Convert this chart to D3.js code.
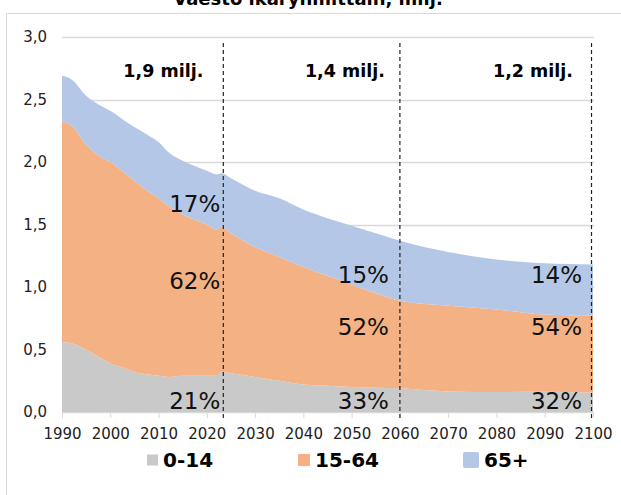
<!DOCTYPE html>
<html>
<head>
<meta charset="utf-8">
<script src="https://cdn.jsdelivr.net/npm/d3@7"></script>
<style>
  body { margin: 0; background: #fff; }
  text { font-family: Verdana, "DejaVu Sans", sans-serif; }
</style>
</head>
<body>
<div id="chart"></div>
<script>
// population by age group, millions
var years    = [1990, 1992, 1995, 1998, 2000, 2003, 2005, 2008, 2010, 2012, 2015, 2018, 2020, 2022, 2023, 2025, 2030, 2035, 2040, 2045, 2050, 2055, 2060, 2070, 2080, 2090, 2100];
var age0_14  = [0.56, 0.55, 0.50, 0.43, 0.39, 0.35, 0.32, 0.30, 0.29, 0.28, 0.29, 0.29, 0.29, 0.29, 0.32, 0.31, 0.28, 0.25, 0.22, 0.21, 0.20, 0.195, 0.19, 0.165, 0.16, 0.163, 0.155];
var age15_64 = [1.77, 1.74, 1.64, 1.61, 1.61, 1.56, 1.53, 1.46, 1.42, 1.37, 1.29, 1.24, 1.21, 1.17, 1.16, 1.12, 1.04, 0.99, 0.94, 0.88, 0.82, 0.755, 0.70, 0.685, 0.66, 0.617, 0.615];
var age65    = [0.36, 0.37, 0.39, 0.41, 0.41, 0.42, 0.43, 0.45, 0.45, 0.43, 0.43, 0.43, 0.43, 0.44, 0.43, 0.44, 0.45, 0.47, 0.46, 0.46, 0.47, 0.48, 0.48, 0.43, 0.40, 0.41, 0.41];

var groups = ["0-14", "15-64", "65+"];
var colors = ["#c9c9c9", "#f4b183", "#b4c7e7"];

var xTicks = [1990, 2000, 2010, 2020, 2030, 2040, 2050, 2060, 2070, 2080, 2090, 2100];
var yTicks = [0, 0.5, 1, 1.5, 2, 2.5, 3];

// marked years with total population and shares
var markYears   = [2023, 2060, 2100];
var totalLabels = ["1,9 milj.", "1,4 milj.", "1,2 milj."];
var shareTop    = ["17%", "15%", "14%"];
var shareMid    = ["62%", "52%", "54%"];
var shareLow    = ["21%", "33%", "32%"];

var titleText = "Väestö ikäryhmittäin, milj.";

/************ PAGE SET-UP ***************/
var width = 621, height = 495;

var svg = d3.select("#chart").append("svg")
    .attr("width", width)
    .attr("height", height);

var x = d3.scaleLinear().domain([1990, 2100]).range([62, 593]);
var y = d3.scaleLinear().domain([0, 3]).range([412, 37]);

var fmt = function (v) { return d3.format(".1f")(v).replace(".", ","); };

// title, mostly cut off at the top edge (as in the original)
svg.append("text")
    .attr("x", 308)
    .attr("y", 5)
    .attr("text-anchor", "middle")
    .style("font-size", "18px")
    .style("font-weight", "bold")
    .text(titleText);

// chart frame
svg.append("rect")
    .attr("x", 6.5)
    .attr("y", 13.5)
    .attr("width", 700)
    .attr("height", 600)
    .attr("fill", "none")
    .attr("stroke", "#d9d9d9");

/************ GRID AND AXES ***************/
svg.append("g")
    .selectAll("line")
    .data(yTicks)
    .join("line")
    .attr("x1", x(1990))
    .attr("x2", x(2100) + 1)
    .attr("y1", function (d) { return Math.round(y(d)) + 0.5; })
    .attr("y2", function (d) { return Math.round(y(d)) + 0.5; })
    .attr("stroke", "#d9d9d9")
    .attr("stroke-width", 1.5);

svg.append("g")
    .selectAll("text")
    .data(yTicks)
    .join("text")
    .attr("x", 47)
    .attr("y", function (d) { return y(d); })
    .attr("dy", "0.36em")
    .attr("text-anchor", "end")
    .style("font-size", "15px")
    .attr("fill", "#222")
    .text(fmt);

var xAxis = d3.axisBottom(x)
    .tickValues(xTicks)
    .tickFormat(d3.format("d"))
    .tickSize(6)
    .tickPadding(10);

var gx = svg.append("g")
    .attr("transform", "translate(0," + y(0) + ")")
    .call(xAxis);

gx.select(".domain").attr("stroke", "#d9d9d9");
gx.selectAll(".tick line").attr("stroke", "#d9d9d9");
gx.selectAll(".tick text")
    .style("font-size", "15px")
    .style("font-family", "Verdana, 'DejaVu Sans', sans-serif")
    .attr("fill", "#222");

/************ STACKED AREAS ***************/
var rows = years.map(function (yr, i) {
    return { year: yr, "0-14": age0_14[i], "15-64": age15_64[i], "65+": age65[i] };
});

var series = d3.stack().keys(groups)(rows);

var area = d3.area()
    .curve(d3.curveMonotoneX)
    .x(function (d) { return x(d.data.year); })
    .y0(function (d) { return y(d[0]); })
    .y1(function (d) { return y(d[1]); });

svg.append("g")
    .selectAll("path")
    .data(series)
    .join("path")
    .attr("fill", function (d, i) { return colors[i]; })
    .attr("d", area);

/************ MARKER LINES AND LABELS ***************/
var lineShift = [2, 0, -1.5];

svg.append("g")
    .selectAll("line")
    .data(markYears)
    .join("line")
    .attr("x1", function (d, i) { return x(d) + lineShift[i]; })
    .attr("x2", function (d, i) { return x(d) + lineShift[i]; })
    .attr("y1", 43)
    .attr("y2", 420)
    .attr("stroke", "#222")
    .attr("stroke-width", 1.2)
    .attr("stroke-dasharray", "4,3");

var totalShift = [-18, -15, -20];

svg.append("g")
    .selectAll("text")
    .data(totalLabels)
    .join("text")
    .attr("x", function (d, i) { return x(markYears[i]) + totalShift[i]; })
    .attr("y", 77)
    .attr("text-anchor", "end")
    .style("font-size", "17.5px")
    .style("font-weight", "bold")
    .text(function (d) { return d; });

// share labels, one row per band
var shareShift = [-1, -11, -11];
var shareRows = [
    { labels: shareTop, base: [212, 283, 283] },
    { labels: shareMid, base: [289, 335, 335] },
    { labels: shareLow, base: [409, 409, 409] }
];

shareRows.forEach(function (row) {
    svg.append("g")
        .selectAll("text")
        .data(row.labels)
        .join("text")
        .attr("x", function (d, i) { return x(markYears[i]) + shareShift[i]; })
        .attr("y", function (d, i) { return row.base[i]; })
        .attr("text-anchor", "end")
        .style("font-size", "23px")
        .attr("fill", "#111")
        .text(function (d) { return d; });
});

/************ LEGEND ***************/
var legendX = [147, 298, 463];
var legendBox = [11, 12, 16];

var legend = svg.append("g")
    .selectAll("g")
    .data(groups)
    .join("g")
    .attr("transform", function (d, i) { return "translate(" + legendX[i] + ",0)"; });

legend.append("rect")
    .attr("x", 0)
    .attr("y", function (d, i) { return 460 - legendBox[i] / 2; })
    .attr("width", function (d, i) { return legendBox[i]; })
    .attr("height", function (d, i) { return legendBox[i]; })
    .attr("rx", function (d, i) { return i == 2 ? 2 : 0; })
    .attr("fill", function (d, i) { return colors[i]; });

legend.append("text")
    .attr("x", function (d, i) { return legendBox[i] + 5; })
    .attr("y", 467)
    .style("font-size", "20px")
    .style("font-weight", "bold")
    .text(function (d) { return d; });
</script>
</body>
</html>
